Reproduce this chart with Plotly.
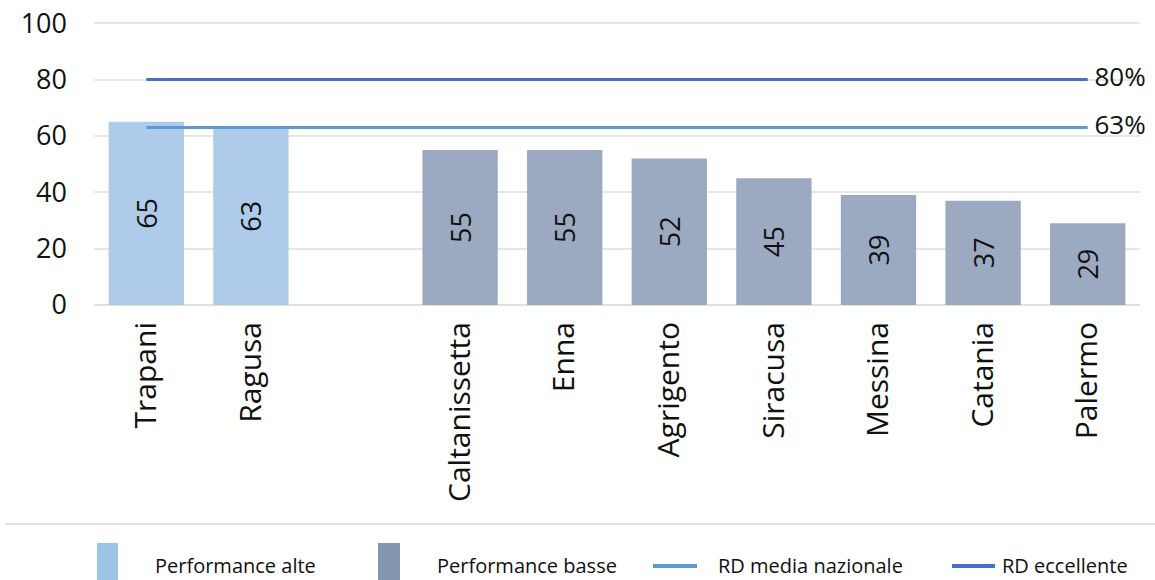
import plotly.graph_objects as go

categories = ["Trapani", "Ragusa", " ", "Caltanissetta", "Enna", "Agrigento",
              "Siracusa", "Messina", "Catania", "Palermo"]
alte_names = ["Trapani", "Ragusa"]
alte_values = [65, 63]
basse_names = ["Caltanissetta", "Enna", "Agrigento", "Siracusa", "Messina", "Catania", "Palermo"]
basse_values = [55, 55, 52, 45, 39, 37, 29]
rd_media = 63
rd_eccellente = 80
y_ticks = [0, 20, 40, 60, 80, 100]
legend_labels = ["Performance alte", "Performance basse", "RD media nazionale", "RD eccellente"]

C_ALTE = "#AECBE9"
C_BASSE = "#9BAAC1"
C_MEDIA = "#5B9BD5"
C_ECC = "#4472C4"

# figure fills the 1155x580 window (body margin removed in post_script)
W, H = 1155, 580
ML, MT = 94, 22
MB = H - 305
MR = W - 1140
PW = W - ML - MR
PH = H - MT - MB


def px(xs):
    return (xs - ML) / PW


def py(ys):
    return (H - MB - ys) / PH


fig = go.Figure()

fig.add_trace(go.Bar(
    x=alte_names, y=alte_values, name=legend_labels[0],
    marker=dict(color=C_ALTE, line=dict(width=0)),
    text=[str(v) for v in alte_values], textposition="inside", textangle=-90,
    insidetextanchor="middle", textfont=dict(size=27, color="#111111", family="Open Sans"),
    width=0.72, showlegend=False,
))
fig.add_trace(go.Bar(
    x=basse_names, y=basse_values, name=legend_labels[1],
    marker=dict(color=C_BASSE, line=dict(width=0)),
    text=[str(v) for v in basse_values], textposition="inside", textangle=-90,
    insidetextanchor="middle", textfont=dict(size=27, color="#111111", family="Open Sans"),
    width=0.72, showlegend=False,
))
line_x = [categories[0], categories[-1]]
fig.add_trace(go.Scatter(
    x=line_x, y=[rd_media, rd_media], name=legend_labels[2], mode="lines+text",
    line=dict(color=C_MEDIA, width=3),
    text=["", f"\u00a0{rd_media}%"], textposition="middle right",
    textfont=dict(size=26, color="#111111", family="Open Sans"),
    cliponaxis=False, showlegend=False,
))
fig.add_trace(go.Scatter(
    x=line_x, y=[rd_eccellente, rd_eccellente], name=legend_labels[3], mode="lines+text",
    line=dict(color=C_ECC, width=3),
    text=["", f"\u00a0{rd_eccellente}%"], textposition="middle right",
    textfont=dict(size=26, color="#111111", family="Open Sans"),
    cliponaxis=False, showlegend=False,
))

# separator line above legend
fig.add_shape(type="line", xref="paper", yref="paper",
              x0=px(5), x1=px(1160), y0=py(524), y1=py(524),
              line=dict(color="#D9D9D9", width=1.5))

# legend (drawn manually)
fig.add_shape(type="rect", xref="paper", yref="paper",
              x0=px(97), x1=px(118), y0=py(543), y1=py(595),
              fillcolor="#9DC3E6", line=dict(width=0))
fig.add_shape(type="rect", xref="paper", yref="paper",
              x0=px(378), x1=px(400), y0=py(543), y1=py(595),
              fillcolor="#8497B0", line=dict(width=0))
fig.add_shape(type="line", xref="paper", yref="paper",
              x0=px(653), x1=px(697), y0=py(566), y1=py(566),
              line=dict(color=C_MEDIA, width=4))
fig.add_shape(type="line", xref="paper", yref="paper",
              x0=px(952), x1=px(995), y0=py(566), y1=py(566),
              line=dict(color=C_ECC, width=4))
for label, xpos in zip(legend_labels, [155, 437, 718, 1002]):
    fig.add_annotation(x=px(xpos), y=py(565), xref="paper", yref="paper",
                       text=label, showarrow=False, xanchor="left", yanchor="middle",
                       xshift=-2, font=dict(size=20, family="Open Sans", color="#111111"))

fig.update_layout(
    width=W, height=H,
    margin=dict(l=ML, r=MR, t=MT, b=MB, autoexpand=False),
    paper_bgcolor="white", plot_bgcolor="white",
    barmode="overlay",
    showlegend=False,
    font=dict(family="Open Sans", color="#111111"),
)
fig.update_xaxes(type="category", categoryorder="array", categoryarray=categories,
                 range=[-0.5, len(categories) - 0.5],
                 tickangle=-90, tickfont=dict(size=30, family="Open Sans", color="#111111"),
                 showgrid=False, showline=False, ticks="", ticklabelstandoff=10,
                 automargin=False, ticklabeloverflow="allow")
fig.update_yaxes(range=[0, 100.4], tickvals=y_ticks,
                 tickfont=dict(size=27, family="Open Sans", color="#111111"),
                 showgrid=True, gridcolor="#E6E6E6", gridwidth=1.5,
                 zeroline=True, zerolinecolor="#E0E0E0", zerolinewidth=1.5,
                 showline=False, ticks="", ticklabelstandoff=26, automargin=False,
                 ticklabeloverflow="allow")

fig.write_html("out.html", config={"displayModeBar": False},
               post_script="document.body.style.margin='0';document.body.style.overflow='hidden';")
